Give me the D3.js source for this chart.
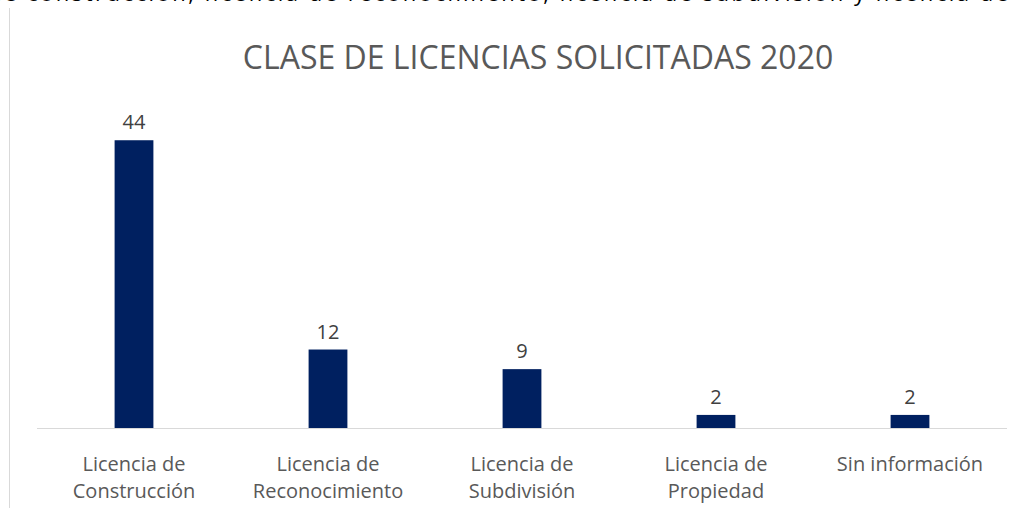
<!DOCTYPE html>
<html>
<head>
<meta charset="utf-8">
<script src="https://cdn.jsdelivr.net/npm/d3@7"></script>
<style>
  body { margin: 0; background: #fff; }
  svg { display: block; }
  text { font-family: "Open Sans", sans-serif; }
</style>
</head>
<body>
<svg id="chart"></svg>
<script>
const width = 1019;
const height = 508;

const categories = [
  ["Licencia de", "Construcción"],
  ["Licencia de", "Reconocimiento"],
  ["Licencia de", "Subdivisión"],
  ["Licencia de", "Propiedad"],
  ["Sin información"]
];
const values = [44, 12, 9, 2, 2];
const title = "CLASE DE LICENCIAS SOLICITADAS 2020";
const cutText = "de construcción, licencia de reconocimiento, licencia de subdivisión y licencia de";

const svg = d3.select("#chart")
    .attr("width", width)
    .attr("height", height);

// line of the document above the chart, cut by the top edge
svg.append("text")
    .attr("x", -12)
    .attr("y", 1)
    .attr("font-size", 22)
    .attr("fill", "#000")
    .attr("textLength", 1020)
    .attr("lengthAdjust", "spacing")
    .text(cutText);

// chart frame, left edge
svg.append("line")
    .attr("x1", 9.5).attr("x2", 9.5)
    .attr("y1", 8).attr("y2", height)
    .attr("stroke", "#d9d9d9");

const x = d3.scaleBand()
    .domain(d3.range(values.length))
    .range([37, 1007])
    .paddingInner(0.8)
    .paddingOuter(0.4);

const y = d3.scaleLinear()
    .domain([0, 50])
    .range([428, 101]);

svg.append("text")
    .attr("x", 538)
    .attr("y", 69)
    .attr("text-anchor", "middle")
    .attr("font-size", 32)
    .attr("fill", "#595959")
    .text(title);

svg.selectAll("rect.bar")
    .data(values)
    .join("rect")
    .attr("class", "bar")
    .attr("x", (d, i) => x(i))
    .attr("width", x.bandwidth())
    .attr("y", d => y(d))
    .attr("height", d => y(0) - y(d))
    .attr("fill", "#002060");

svg.selectAll("text.val")
    .data(values)
    .join("text")
    .attr("class", "val")
    .attr("x", (d, i) => x(i) + x.bandwidth() / 2)
    .attr("y", d => y(d) - 11)
    .attr("text-anchor", "middle")
    .attr("font-size", 20)
    .attr("fill", "#404040")
    .text(d => d);

svg.append("line")
    .attr("x1", 37).attr("x2", 1007)
    .attr("y1", 428.5).attr("y2", 428.5)
    .attr("stroke", "#d9d9d9")
    .attr("stroke-width", 1);

const labels = svg.selectAll("text.cat")
    .data(categories)
    .join("text")
    .attr("class", "cat")
    .attr("text-anchor", "middle")
    .attr("font-size", 20)
    .attr("fill", "#595959")
    .attr("transform", (d, i) => `translate(${x(i) + x.bandwidth() / 2},471)`);

labels.selectAll("tspan")
    .data(d => d)
    .join("tspan")
    .attr("x", 0)
    .attr("dy", (d, i) => i ? 27 : 0)
    .text(d => d);
</script>
</body>
</html>
